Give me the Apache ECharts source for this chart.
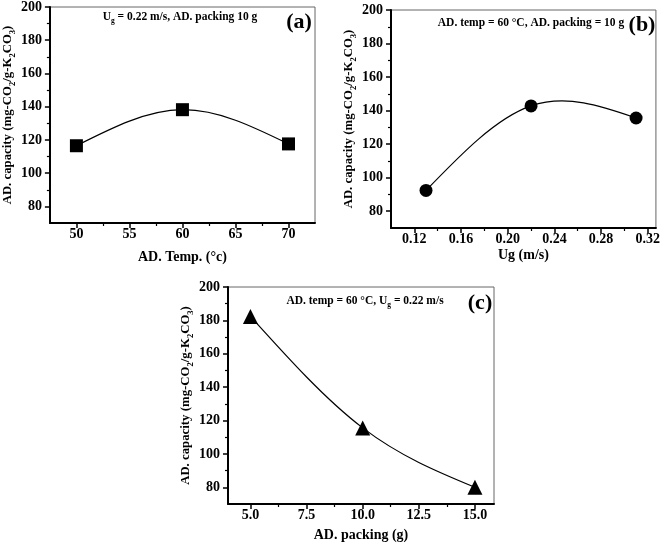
<!DOCTYPE html>
<html><head><meta charset="utf-8">
<script src="https://cdn.jsdelivr.net/npm/echarts@6/dist/echarts.min.js"></script>
<style>html,body{margin:0;padding:0;background:#fff}#c{width:663px;height:548px}</style>
</head><body><div id="c"></div>
<script>
// ---- data ----
const tempX = [50, 60, 70];
const tempY = [116.5, 138.2, 117.6];
const ugX = [0.13, 0.22, 0.31];
const ugY = [92.4, 142.8, 135.6];
const packX = [5, 10, 15];
const packY = [182.4, 115.6, 80];
const yTicks = [80, 100, 120, 140, 160, 180, 200];
const yMinor = [90, 110, 130, 150, 170, 190];
const tempTicks = [50, 55, 60, 65, 70];
const tempMinor = [52.5, 57.5, 62.5, 67.5];
const ugTicks = [0.12, 0.16, 0.20, 0.24, 0.28, 0.32];
const ugMinor = [0.14, 0.18, 0.22, 0.26, 0.30];
const packTicks = [5, 7.5, 10, 12.5, 15];
const packMinor = [6.25, 8.75, 11.25, 13.75];

const FONT = 'Liberation Serif';
const nameRich = {
  a: {fontFamily: FONT, fontWeight: 'bold', fontSize: 12.8, color: '#000', lineHeight: 19},
  s: {fontFamily: FONT, fontWeight: 'bold', fontSize: 8.5, color: '#000', verticalAlign: 'bottom', lineHeight: 19}
};
const capName = '{a|AD. capacity (mg-CO}{s|2}{a|/g-K}{s|2}{a|CO}{s|3}{a|)}';

function xAxes(grid, min, max, ticks, minor, fmt, name, gap) {
  return [{
    type: 'value', gridIndex: grid, min: min, max: max, position: 'bottom',
    axisLine: {show: true, onZero: false, lineStyle: {color: '#000', width: 2}},
    axisTick: {show: true, length: 5, customValues: ticks, lineStyle: {color: '#000', width: 1.5}},
    axisLabel: {customValues: ticks, formatter: fmt, fontFamily: FONT, fontWeight: 'bold', fontSize: 14, color: '#000', margin: 4},
    splitLine: {show: false},
    name: name, nameLocation: 'middle', nameGap: gap,
    nameTextStyle: {fontFamily: FONT, fontWeight: 'bold', fontSize: 14, color: '#000'}
  }, {
    type: 'value', gridIndex: grid, min: min, max: max, position: 'bottom',
    axisLine: {show: false},
    axisTick: {show: true, length: 3, customValues: minor, lineStyle: {color: '#000', width: 1.2}},
    axisLabel: {show: false}, splitLine: {show: false}
  }];
}
function yAxes(grid, gap) {
  return [{
    type: 'value', gridIndex: grid, min: 70, max: 200, position: 'left',
    axisLine: {show: true, onZero: false, lineStyle: {color: '#000', width: 2}},
    axisTick: {show: true, length: 5, customValues: yTicks, lineStyle: {color: '#000', width: 1.5}},
    axisLabel: {customValues: yTicks, fontFamily: FONT, fontWeight: 'bold', fontSize: 14, color: '#000', margin: 8},
    splitLine: {show: false},
    name: capName, nameLocation: 'middle', nameGap: gap,
    nameTextStyle: {rich: nameRich}
  }, {
    type: 'value', gridIndex: grid, min: 70, max: 200, position: 'left',
    axisLine: {show: false},
    axisTick: {show: true, length: 3, customValues: yMinor, lineStyle: {color: '#000', width: 1.2}},
    axisLabel: {show: false}, splitLine: {show: false}
  }];
}
function pairs(xs, ys) { return xs.map((x, i) => [x, ys[i]]); }

// natural cubic spline: knot slopes (data space)
function splineSlopes(xs, ys) {
  const n = xs.length, h = [], M = new Array(n).fill(0);
  for (let i = 0; i < n - 1; i++) h.push(xs[i + 1] - xs[i]);
  if (n > 2) {
    const a = [], b = [], c = [], d = [];
    for (let i = 1; i < n - 1; i++) {
      a.push(h[i - 1]); b.push(2 * (h[i - 1] + h[i])); c.push(h[i]);
      d.push(6 * ((ys[i + 1] - ys[i]) / h[i] - (ys[i] - ys[i - 1]) / h[i - 1]));
    }
    const m = b.length;
    for (let i = 1; i < m; i++) { const w = a[i] / b[i - 1]; b[i] -= w * c[i - 1]; d[i] -= w * d[i - 1]; }
    const sol = new Array(m);
    sol[m - 1] = d[m - 1] / b[m - 1];
    for (let i = m - 2; i >= 0; i--) sol[i] = (d[i] - c[i] * sol[i + 1]) / b[i];
    for (let i = 0; i < m; i++) M[i + 1] = sol[i];
  }
  const s = [];
  for (let i = 0; i < n; i++) {
    if (i < n - 1) s.push((ys[i + 1] - ys[i]) / h[i] - h[i] * (2 * M[i] + M[i + 1]) / 6);
    else s.push((ys[i] - ys[i - 1]) / h[i - 1] + h[i - 1] * (M[i - 1] + 2 * M[i]) / 6);
  }
  return s;
}
function curve(xi, yi, xs, ys) {
  const sl = splineSlopes(xs, ys);
  return {
    type: 'custom', coordinateSystem: 'cartesian2d', xAxisIndex: xi, yAxisIndex: yi,
    data: pairs(xs, ys), silent: true, z: 3,
    renderItem: function (params, api) {
      const i = params.dataIndex;
      if (i >= xs.length - 1) return null;
      const h = xs[i + 1] - xs[i];
      const p0 = api.coord([xs[i], ys[i]]);
      const c1 = api.coord([xs[i] + h / 3, ys[i] + sl[i] * h / 3]);
      const c2 = api.coord([xs[i + 1] - h / 3, ys[i + 1] - sl[i + 1] * h / 3]);
      const p1 = api.coord([xs[i + 1], ys[i + 1]]);
      return {
        type: 'bezierCurve',
        shape: {x1: p0[0], y1: p0[1], cpx1: c1[0], cpy1: c1[1], cpx2: c2[0], cpy2: c2[1], x2: p1[0], y2: p1[1]},
        style: {stroke: '#000', fill: null, lineWidth: 1.2}
      };
    }
  };
}
function marks(xi, yi, xs, ys, sym, size) {
  return {
    type: 'scatter', xAxisIndex: xi, yAxisIndex: yi, data: pairs(xs, ys),
    symbol: sym, symbolSize: size,
    itemStyle: {color: '#000', opacity: 1}, emphasis: {disabled: true}, z: 5
  };
}
const annRich = {
  a: {fontFamily: FONT, fontWeight: 'bold', fontSize: 11.5, fill: '#000', lineHeight: 16},
  s: {fontFamily: FONT, fontWeight: 'bold', fontSize: 7.5, fill: '#000', verticalAlign: 'bottom', lineHeight: 16}
};
function ann(x, y, text) {
  return {type: 'text', x: x, y: y, z: 10, style: {text: text, align: 'center', verticalAlign: 'middle', rich: annRich}};
}
function lab(x, y, text) {
  return {type: 'text', x: x, y: y, z: 10, style: {text: text, align: 'center', verticalAlign: 'middle', font: 'bold 22px "Liberation Serif"', fill: '#000'}};
}
const gridStyle = {show: true, borderColor: '#666', borderWidth: 1, backgroundColor: 'transparent'};
const option = {
  animation: false,
  grid: [
    Object.assign({left: 45, top: 6, width: 270, height: 217}, gridStyle),
    Object.assign({left: 391, top: 10, width: 269, height: 218}, gridStyle),
    Object.assign({left: 228, top: 287, width: 266, height: 217}, gridStyle)
  ],
  xAxis: [].concat(
    xAxes(0, 47.5, 72.5, tempTicks, tempMinor, v => String(v), 'AD. Temp. (°c)', 27),
    xAxes(1, 0.10, 0.327, ugTicks, ugMinor, v => v.toFixed(2), 'Ug (m/s)', 20),
    xAxes(2, 4.0, 15.85, packTicks, packMinor, v => v.toFixed(1), 'AD. packing (g)', 24)
  ),
  yAxis: [].concat(yAxes(0, 28), yAxes(1, 26), yAxes(2, 30)),
  series: [
    curve(0, 0, tempX, tempY),
    marks(0, 0, tempX, tempY, 'rect', 13),
    curve(2, 2, ugX, ugY),
    marks(2, 2, ugX, ugY, 'circle', 13),
    curve(4, 4, packX, packY),
    marks(4, 4, packX, packY, 'triangle', 15)
  ],
  graphic: [
    ann(180, 17, '{a|U}{s|g}{a| = 0.22 m/s, AD. packing 10 g}'),
    lab(299, 22, '(a)'),
    ann(531, 23, '{a|AD. temp = 60 °C, AD. packing = 10 g}'),
    lab(642, 25, '(b)'),
    ann(365, 301, '{a|AD. temp = 60 °C, U}{s|g}{a| = 0.22 m/s}'),
    lab(480, 303, '(c)')
  ]
};
const chart = echarts.init(document.getElementById('c'), null, {renderer: 'canvas'});
chart.setOption(option);
</script>
</body></html>
